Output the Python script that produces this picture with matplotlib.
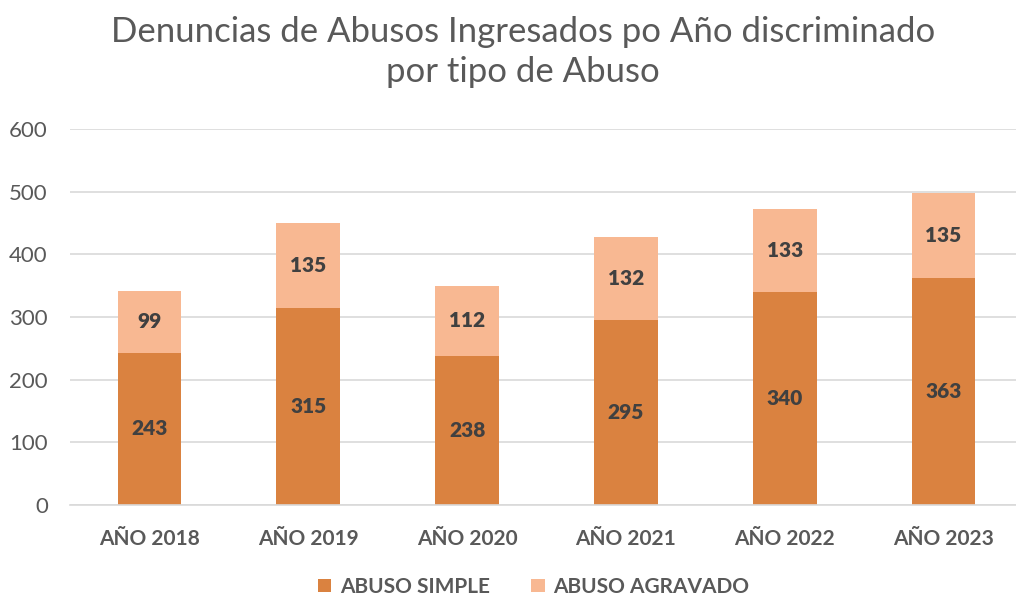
import numpy as np
import matplotlib.pyplot as plt

years = ['AÑO 2018', 'AÑO 2019', 'AÑO 2020', 'AÑO 2021', 'AÑO 2022', 'AÑO 2023']
abuso_simple = [243, 315, 238, 295, 340, 363]
abuso_agravado = [99, 135, 112, 132, 133, 135]

DARK = '#DA8240'
LIGHT = '#F8B892'
TXT = '#595959'
LBL = '#404040'

plt.rcParams['font.family'] = ['Lato', 'DejaVu Sans']

fig = plt.figure(figsize=(10.16, 5.97), dpi=100)
ax = fig.add_axes([70 / 1016, 92 / 597, 953 / 1016, 376 / 597])

x = np.arange(len(years))
w = 0.40
b1 = ax.bar(x, abuso_simple, w, color=DARK, label='ABUSO SIMPLE', zorder=2)
b2 = ax.bar(x, abuso_agravado, w, bottom=abuso_simple, color=LIGHT,
            label='ABUSO AGRAVADO', zorder=2)

for xi, s, a in zip(x, abuso_simple, abuso_agravado):
    ax.text(xi, s / 2, str(s), ha='center', va='center', fontsize=15,
            fontweight='heavy', color=LBL, zorder=3)
    ax.text(xi, s + a / 2, str(a), ha='center', va='center', fontsize=15,
            fontweight='heavy', color=LBL, zorder=3)

ax.set_xlim(-0.5, len(years) - 0.5)
ax.set_ylim(0, 600)
ax.set_yticks(range(0, 601, 100))
ax.yaxis.grid(True, color='#D9D9D9', linewidth=1.2, zorder=0)
ax.set_axisbelow(True)
for sp in ['top', 'right', 'left']:
    ax.spines[sp].set_visible(False)
ax.spines['bottom'].set_color('#D9D9D9')
ax.spines['bottom'].set_linewidth(1.2)
ax.tick_params(axis='both', length=0, colors=TXT, labelsize=16)
ax.tick_params(axis='y', pad=16)
ax.tick_params(axis='x', pad=17)
ax.set_xticks(x)
ax.set_xticklabels(years, fontweight='bold', fontsize=15)

fig.text(0.515, 0.913, 'Denuncias de Abusos Ingresados po Año discriminado\npor tipo de Abuso',
         ha='center', va='center', fontsize=25, color=TXT, linespacing=1.3)

fig.legend(handles=[b1, b2], loc='center', bbox_to_anchor=(0.525, 0.017),
           ncol=2, frameon=False, handlelength=0.65, handleheight=0.65,
           columnspacing=2.0, handletextpad=0.4,
           prop={'weight': 'bold', 'size': 15})
for t in fig.legends[0].get_texts():
    t.set_color(TXT)

fig.savefig('out.png', dpi=100)
